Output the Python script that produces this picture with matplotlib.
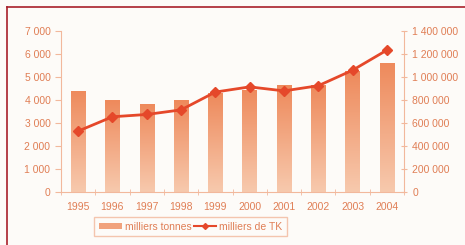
import numpy as np
import matplotlib.pyplot as plt
from matplotlib.lines import Line2D
from matplotlib.patches import Patch
from matplotlib.colors import LinearSegmentedColormap
plt.rcParams["font.family"] = "Liberation Sans"
plt.rcParams.update({'font.size': 7.5})

years = ["1995", "1996", "1997", "1998", "1999", "2000", "2001", "2002", "2003", "2004"]
tonnes = [4400, 4000, 3830, 4000, 4300, 4450, 4650, 4650, 5250, 5600]
tk = [530000, 655000, 675000, 715000, 870000, 915000, 880000, 925000, 1060000, 1235000]

txt_c = "#e07e55"
axis_c = "#f2b89c"
line_c = "#e5482a"

fig = plt.figure(figsize=(4.65, 2.45), dpi=100, facecolor="#fdfbf8")
ax = fig.add_axes([0.131, 0.216, 0.738, 0.657])
ax.set_facecolor("none")
x = np.arange(len(years))
bars = ax.bar(x, tonnes, width=0.42, color="none", zorder=2)

# vertical gradient on each bar
grad = np.linspace(0, 1, 100).reshape(-1, 1)
cm = LinearSegmentedColormap.from_list("g", ["#f7c9ad", "#ee8a5c"])
for b in bars:
    x0, y0 = b.get_x(), b.get_y()
    im = ax.imshow(grad, extent=[x0, x0 + b.get_width(), y0, y0 + b.get_height()],
                   origin="lower", cmap=cm, aspect="auto", zorder=2)
    im.set_clip_path(b)

ax.set_xlim(-0.5, len(years) - 0.5)
ax.set_ylim(0, 7000)
ax.set_yticks(range(0, 7001, 1000))
ax.set_yticklabels(["0" if v == 0 else "{} {:03d}".format(v // 1000, v % 1000) for v in range(0, 7001, 1000)])
ax.set_xticks(x)
ax.set_xticklabels(years)
ax.set_xticks(np.arange(-0.5, len(years), 1), minor=True)
ax.tick_params(axis="x", which="major", length=0, pad=7, colors=txt_c)
ax.tick_params(axis="x", which="minor", length=4, direction="inout", color=axis_c)
ax.tick_params(axis="y", length=4, direction="out", color=axis_c, labelcolor=txt_c)
for s in ["top", "right"]:
    ax.spines[s].set_visible(False)
for s in ["left", "bottom"]:
    ax.spines[s].set_color(axis_c)

ax2 = ax.twinx()
ax2.plot(x, tk, c=line_c, lw=2, marker="D", markersize=5.5, zorder=3)
ax2.set_ylim(0, 1400000)
ax2.set_yticks(range(0, 1400001, 200000))
ax2.set_yticklabels(["{:,}".format(v).replace(",", " ") for v in range(0, 1400001, 200000)])
ax2.tick_params(axis="y", length=4, direction="inout", color=axis_c, labelcolor=txt_c, pad=4)
for s in ["top", "left", "bottom"]:
    ax2.spines[s].set_visible(False)
ax2.spines["right"].set_color(axis_c)

handles = [Patch(facecolor="#f1a27c", edgecolor="none"),
           Line2D([], [], c=line_c, lw=1.5, marker="D", markersize=3)]
leg = fig.legend(handles, ["milliers tonnes", "milliers de TK"], loc="center",
                 bbox_to_anchor=(0.41, 0.075), ncol=2, frameon=True, fancybox=False,
                 handlelength=2.2, handleheight=0.4, columnspacing=0.2, handletextpad=0.25,
                 borderpad=0.45, labelcolor=txt_c)
leg.get_frame().set_edgecolor(axis_c)
leg.get_frame().set_facecolor("#fdfbf8")

# outer frame
fig.add_artist(Line2D([0.016, 1.0], [0.971, 0.971], color="#a8202a", lw=1.2))
fig.add_artist(Line2D([0.016, 0.016], [0.0, 0.971], color="#a8202a", lw=1.2))

fig.savefig("out.png", dpi=100, facecolor=fig.get_facecolor())
